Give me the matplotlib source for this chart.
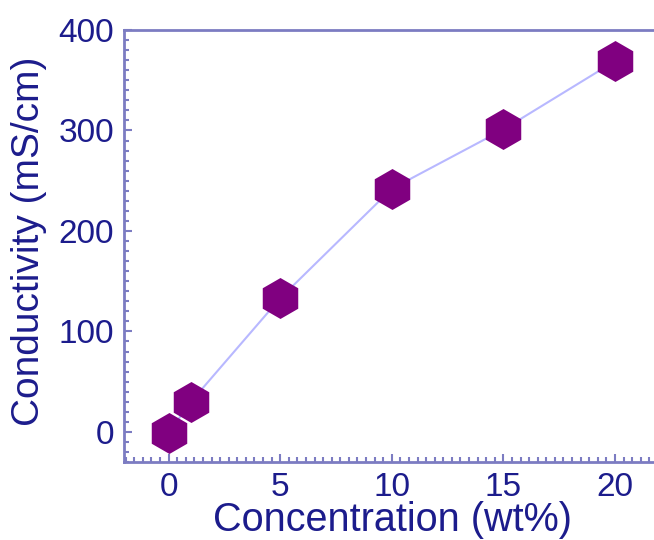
import matplotlib
matplotlib.use("Agg")
import matplotlib.pyplot as plt
from matplotlib.ticker import MultipleLocator, AutoMinorLocator

# data
concentration = [0, 1, 5, 10, 15, 20]          # wt%
conductivity = [-1, 30, 133, 242, 301, 369]    # mS/cm

text_color = '#1c1c8c'
spine_color = '#7c7cc2'

plt.rcParams['font.family'] = ['Liberation Sans', 'DejaVu Sans']

fig = plt.figure(figsize=(6.54, 5.40), dpi=100)
ax = fig.add_axes([0.1896, 0.1444, 0.8104, 0.8])

ax.plot(concentration, conductivity, color='#b8b8ff', lw=1.5,
        marker='h', ms=29.5, mfc='#800080', mec='#800080', mew=0)

ax.set_xlim(-2, 21.75)
ax.set_ylim(-30, 400)

ax.xaxis.set_major_locator(MultipleLocator(5))
ax.xaxis.set_minor_locator(AutoMinorLocator(13))
ax.yaxis.set_major_locator(MultipleLocator(100))
ax.yaxis.set_minor_locator(MultipleLocator(10))

for side in ['left', 'bottom', 'top']:
    ax.spines[side].set_color(spine_color)
    ax.spines[side].set_linewidth(2)
ax.spines['right'].set_visible(False)

ax.tick_params(which='both', direction='in', color=spine_color, width=1.5,
               labelcolor=text_color, labelsize=24)
ax.tick_params(which='major', length=6)
ax.tick_params(which='minor', length=3.5)
ax.tick_params(axis='x', pad=7)
ax.tick_params(axis='y', pad=7)

ax.set_xlabel('Concentration (wt%)', fontsize=28.5, color=text_color)
ax.set_ylabel('Conductivity (mS/cm)', fontsize=28, color=text_color)
ax.xaxis.set_label_coords(0.506, -0.09)
ax.yaxis.set_label_coords(-0.145, 0.51)

fig.savefig('out.png', dpi=100)
